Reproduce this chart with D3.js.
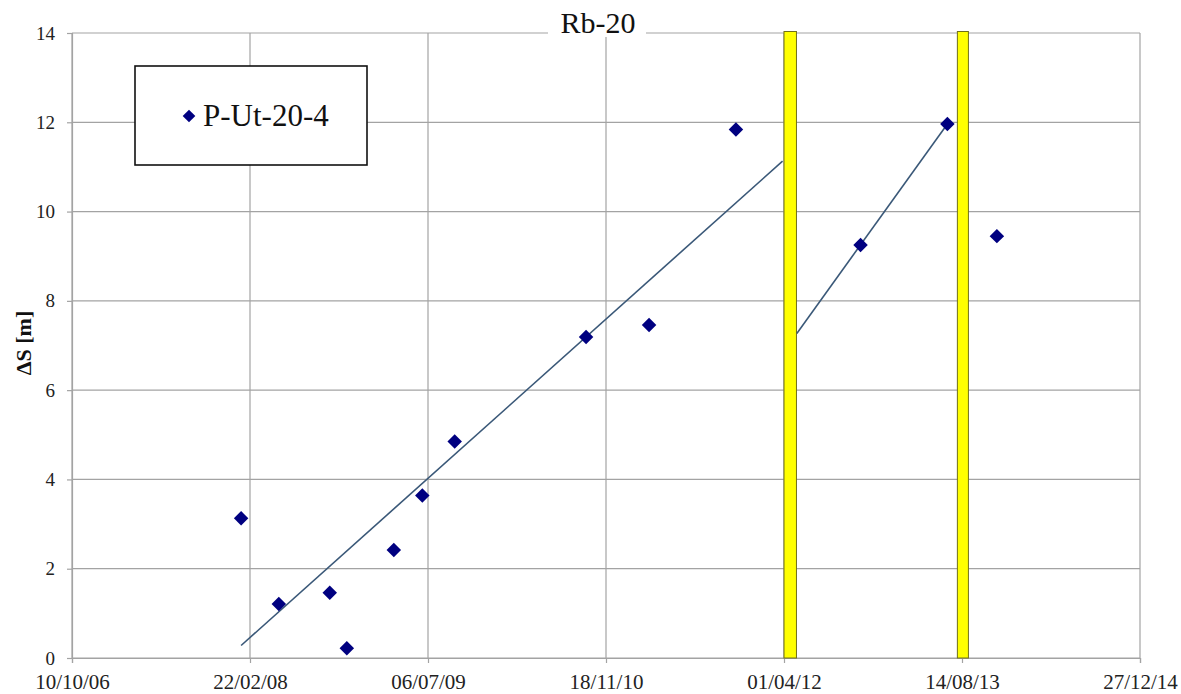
<!DOCTYPE html>
<html>
<head>
<meta charset="utf-8">
<title>Rb-20</title>
<script src="https://cdn.jsdelivr.net/npm/d3@7"></script>
<style>
  html, body { margin: 0; padding: 0; background: #fff; }
  svg { display: block; }
  svg text { font-family: 'Liberation Serif', 'Times New Roman', serif !important; }
</style>
</head>
<body>
<svg id="chart" width="1181" height="694"></svg>
<script>
// Survey dates (dd/mm/yy) and measured displacement ΔS [m] for P-Ut-20-4
const dates  = ["28/01/08","13/05/08","03/10/08","20/11/08","01/04/09","20/06/09","19/09/09",
                "23/09/10","19/03/11","18/11/11","02/11/12","04/07/13","20/11/13"];
const values = [3.13, 1.21, 1.46, 0.22, 2.42, 3.64, 4.85, 7.19, 7.46, 11.84, 9.25, 11.96, 9.45];

// Linear trend segments before and after the first highlighted interval
const trend1Dates  = ["28/01/08", "28/03/12"];
const trend1Values = [0.28, 11.13];
const trend2Dates  = ["07/05/12", "04/07/13"];
const trend2Values = [7.27, 11.96];

// Highlighted intervals (start, end)
const bandStarts = ["01/04/12", "01/08/13"];
const bandEnds   = ["06/05/12", "01/09/13"];

// Axis ticks
const xTickLabels = ["10/10/06","22/02/08","06/07/09","18/11/10","01/04/12","14/08/13","27/12/14"];
const yTicks = [0, 2, 4, 6, 8, 10, 12, 14];

const seriesName = "P-Ut-20-4";
const titleText = "Rb-20";
const yLabel = "ΔS [m]";

const parse = d3.utcParse("%d/%m/%y");
const fmt = d3.utcFormat("%d/%m/%y");

const svg = d3.select("#chart");
const plotLeft = 72, plotRight = 1140, plotTop = 33, plotBottom = 658;

const xTicks = xTickLabels.map(parse);
const x = d3.scaleUtc().domain([xTicks[0], xTicks[xTicks.length - 1]]).range([plotLeft, plotRight]);
const y = d3.scaleLinear().domain([0, 14]).range([plotBottom, plotTop]);

const gridColor = "#a3a3a3";

// Horizontal gridlines
svg.append("g").selectAll("line").data(yTicks).join("line")
  .attr("x1", plotLeft).attr("x2", plotRight)
  .attr("y1", d => y(d)).attr("y2", d => y(d))
  .attr("stroke", gridColor).attr("stroke-width", 1.2);

// Vertical gridlines
svg.append("g").selectAll("line").data(xTicks).join("line")
  .attr("x1", d => x(d)).attr("x2", d => x(d))
  .attr("y1", plotTop).attr("y2", plotBottom)
  .attr("stroke", gridColor).attr("stroke-width", 1.2);

// Y axis
const yAxis = svg.append("g")
  .attr("transform", `translate(${plotLeft},0)`)
  .call(d3.axisLeft(y).tickValues(yTicks).tickSize(5).tickPadding(12).tickFormat(d3.format("d")));
yAxis.attr("font-family", null);
yAxis.select(".domain").attr("stroke", gridColor).attr("stroke-width", 1.2);
yAxis.selectAll(".tick line").attr("stroke", gridColor).attr("stroke-width", 1.2);
yAxis.selectAll(".tick text")
  .style("font-size", "19px").attr("fill", "#222");

// X axis
const xAxis = svg.append("g")
  .attr("transform", `translate(0,${plotBottom})`)
  .call(d3.axisBottom(x).tickValues(xTicks).tickSize(5).tickPadding(11).tickFormat(fmt));
xAxis.attr("font-family", null);
xAxis.select(".domain").attr("stroke", gridColor).attr("stroke-width", 1.2);
xAxis.selectAll(".tick line").attr("stroke", gridColor).attr("stroke-width", 1.2);
xAxis.selectAll(".tick text")
  .style("font-size", "21px").attr("fill", "#222");

// Highlighted intervals
svg.append("g").selectAll("rect").data(bandStarts.map((s, i) => [parse(s), parse(bandEnds[i])])).join("rect")
  .attr("x", d => x(d[0]))
  .attr("width", d => x(d[1]) - x(d[0]))
  .attr("y", y(14) - 1.5)
  .attr("height", y(0) - y(14) + 1.5)
  .attr("fill", "#ffff00")
  .attr("stroke", "#6f6f1a").attr("stroke-width", 1);

// Trend lines
const line = d3.line().x(d => x(d[0])).y(d => y(d[1]));
[[trend1Dates, trend1Values], [trend2Dates, trend2Values]].forEach(([ds, vs]) => {
  svg.append("path")
    .datum(ds.map((d, i) => [parse(d), vs[i]]))
    .attr("d", line)
    .attr("fill", "none")
    .attr("stroke", "#3a5878")
    .attr("stroke-width", 1.6);
});

// Data points (diamonds)
svg.append("g").selectAll("path").data(dates.map((d, i) => [parse(d), values[i]])).join("path")
  .attr("transform", d => `translate(${x(d[0])},${y(d[1])}) rotate(45)`)
  .attr("d", d3.symbol().type(d3.symbolSquare).size(105))
  .attr("fill", "#000080");

// Title with white backing over the top gridline
const titleX = 598;
svg.append("rect").attr("x", titleX - 50).attr("y", 6).attr("width", 98).attr("height", 31).attr("fill", "#fff");
svg.append("text")
  .attr("x", titleX).attr("y", 33)
  .attr("text-anchor", "middle")
  .style("font-size", "30px").attr("fill", "#111")
  .text(titleText);

// Y axis label
svg.append("text")
  .attr("transform", `translate(31,343) rotate(-90)`)
  .attr("text-anchor", "middle")
  .style("font-size", "22px").style("font-weight", "bold").attr("fill", "#111")
  .text(yLabel);

// Legend
const legend = svg.append("g");
legend.append("rect")
  .attr("x", 135).attr("y", 66).attr("width", 232).attr("height", 99)
  .attr("fill", "#fff").attr("stroke", "#111").attr("stroke-width", 1.6);
legend.append("path")
  .attr("transform", "translate(189,116) rotate(45)")
  .attr("d", d3.symbol().type(d3.symbolSquare).size(80))
  .attr("fill", "#000080");
legend.append("text")
  .attr("x", 203).attr("y", 126)
  .style("font-size", "31px").attr("fill", "#111")
  .text(seriesName);
</script>
</body>
</html>
